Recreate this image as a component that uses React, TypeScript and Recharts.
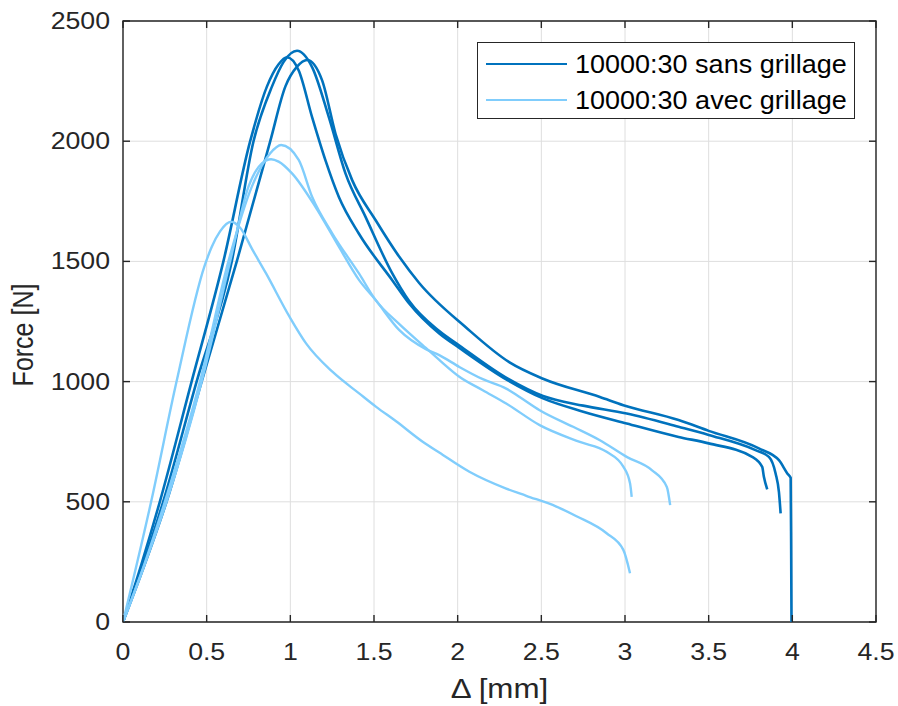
import React from 'react';
import { LineChart, Line, XAxis, YAxis, CartesianGrid, ReferenceArea, Legend } from 'recharts';

const DELTA_TICKS = [0, 0.5, 1, 1.5, 2, 2.5, 3, 3.5, 4, 4.5];
const FORCE_TICKS = [0, 500, 1000, 1500, 2000, 2500];

// 10000:30 sans grillage (3 essais)
const sans1Delta = [0, 0.11, 0.22, 0.41, 0.6, 0.76, 0.86, 0.93, 0.98, 1.05, 1.13, 1.21, 1.29, 1.41, 1.61, 1.71, 1.89, 2.01, 2.3, 2.51, 2.75, 3.01, 3.32, 3.5, 3.76, 3.82, 3.83, 3.85];
const sans1Force = [0, 240, 500, 1000, 1500, 2000, 2227, 2320, 2349, 2294, 2100, 1920, 1768, 1615, 1421, 1325, 1200, 1140, 1005, 930, 875, 826, 770, 743, 687, 645, 604, 552];

const sans2Delta = [0, 0.12, 0.24, 0.44, 0.65, 0.78, 0.89, 0.96, 1.04, 1.13, 1.23, 1.33, 1.45, 1.61, 1.71, 1.89, 2.01, 2.3, 2.51, 2.75, 3.01, 3.32, 3.5, 3.78, 3.86, 3.9, 3.92, 3.93];
const sans2Force = [0, 240, 500, 1000, 1500, 2000, 2227, 2330, 2376, 2308, 2100, 1865, 1684, 1449, 1335, 1210, 1150, 1012, 940, 900, 867, 812, 778, 715, 687, 618, 540, 452];

const sans3Delta = [0, 0.13, 0.26, 0.47, 0.68, 0.88, 0.97, 1.04, 1.1, 1.19, 1.27, 1.37, 1.51, 1.65, 1.77, 2.05, 2.31, 2.51, 2.85, 2.99, 3.32, 3.5, 3.8, 3.92, 3.97, 3.99, 3.993, 3.995];
const sans3Force = [0, 240, 500, 1000, 1500, 2000, 2227, 2310, 2338, 2253, 2031, 1837, 1671, 1520, 1410, 1225, 1080, 1012, 936, 902, 840, 795, 722, 673, 618, 600, 300, 0];

// 10000:30 avec grillage (3 essais)
const avec1Delta = [0, 0.13, 0.25, 0.46, 0.63, 0.77, 0.88, 0.945, 1.05, 1.13, 1.25, 1.41, 1.51, 1.65, 1.81, 1.89, 2.01, 2.15, 2.29, 2.49, 2.73, 2.89, 2.99, 3.03, 3.04];
const avec1Force = [0, 245, 500, 1000, 1500, 1811, 1950, 1984, 1922, 1769, 1617, 1450, 1339, 1240, 1140, 1090, 1020, 964, 909, 819, 749, 708, 646, 577, 521];

const avec2Delta = [0, 0.13, 0.26, 0.47, 0.64, 0.75, 0.83, 0.885, 0.93, 1.01, 1.15, 1.29, 1.41, 1.51, 1.65, 1.81, 1.89, 2.01, 2.15, 2.29, 2.37, 2.49, 2.69, 2.85, 3.01, 3.16, 3.25, 3.27];
const avec2Force = [0, 240, 500, 1000, 1500, 1811, 1908, 1925, 1915, 1866, 1727, 1561, 1423, 1339, 1215, 1135, 1110, 1061, 1010, 971, 936, 881, 812, 756, 687, 632, 562, 486];

const avec3Delta = [0, 0.168, 0.32, 0.487, 0.53, 0.58, 0.646, 0.7, 0.775, 0.855, 0.995, 1.094, 1.253, 1.413, 1.513, 1.632, 1.791, 1.89, 2.07, 2.29, 2.41, 2.59, 2.71, 2.89, 2.99, 3.03];
const avec3Force = [0, 500, 1000, 1480, 1560, 1625, 1665, 1640, 1547, 1450, 1270, 1159, 1040, 950, 895, 835, 750, 705, 625, 555, 525, 480, 440, 369, 300, 203];

const LABEL_SANS = '10000:30 sans grillage';
const LABEL_AVEC = '10000:30 avec grillage';

const DARK = '#0072BD';
const LIGHT = '#80CDFC';
const AXIS = '#262626';
const FONT = '"Liberation Sans", Arial, Helvetica, sans-serif';

const W = 898;
const H = 706;
const PLOT_TOP = 21;
const PLOT_BOTTOM = 622;
const PLOT_LEFT = 123;
const PLOT_RIGHT = 876;
const TICK_LEN = 7;
const STRETCH = 1.16;

const zip = (xs: number[], ys: number[]) => xs.map((x, i) => ({ x, y: ys[i] }));

const SERIES = [
  { id: 'sans1', data: zip(sans1Delta, sans1Force), color: DARK, name: LABEL_SANS, legend: true },
  { id: 'sans2', data: zip(sans2Delta, sans2Force), color: DARK, name: LABEL_SANS, legend: false },
  { id: 'sans3', data: zip(sans3Delta, sans3Force), color: DARK, name: LABEL_SANS, legend: false },
  { id: 'avec1', data: zip(avec1Delta, avec1Force), color: LIGHT, name: LABEL_AVEC, legend: true },
  { id: 'avec2', data: zip(avec2Delta, avec2Force), color: LIGHT, name: LABEL_AVEC, legend: false },
  { id: 'avec3', data: zip(avec3Delta, avec3Force), color: LIGHT, name: LABEL_AVEC, legend: false },
];

function DeltaTick(props: any) {
  const { x, payload } = props;
  return (
    <g>
      <line x1={x} x2={x} y1={PLOT_BOTTOM} y2={PLOT_BOTTOM - TICK_LEN} stroke={AXIS} strokeWidth={1.4} />
      <line x1={x} x2={x} y1={PLOT_TOP} y2={PLOT_TOP + TICK_LEN} stroke={AXIS} strokeWidth={1.4} />
      <text
        transform={`translate(${x},${PLOT_BOTTOM + 38}) scale(${STRETCH},1)`}
        textAnchor="middle"
        fontSize={23}
        fontFamily={FONT}
        fill={AXIS}
      >
        {payload.value}
      </text>
    </g>
  );
}

function ForceTick(props: any) {
  const { y, payload } = props;
  return (
    <g>
      <line x1={PLOT_LEFT} x2={PLOT_LEFT + TICK_LEN} y1={y} y2={y} stroke={AXIS} strokeWidth={1.4} />
      <line x1={PLOT_RIGHT} x2={PLOT_RIGHT - TICK_LEN} y1={y} y2={y} stroke={AXIS} strokeWidth={1.4} />
      <text
        transform={`translate(110,${y + 8}) scale(${STRETCH},1)`}
        textAnchor="end"
        fontSize={23}
        fontFamily={FONT}
        fill={AXIS}
      >
        {payload.value}
      </text>
    </g>
  );
}

function LegendBox() {
  const items = SERIES.filter((s) => s.legend);
  return (
    <div
      style={{
        width: 378,
        height: 77,
        boxSizing: 'border-box',
        border: `1px solid ${AXIS}`,
        background: '#fff',
        paddingTop: 3,
        fontFamily: FONT,
      }}
    >
      {items.map((s) => (
        <div key={s.id} style={{ height: 36, display: 'flex', alignItems: 'center' }}>
          <div style={{ width: 81, height: 0, borderTop: `2.6px solid ${s.color}`, marginLeft: 8 }} />
          <span
            style={{
              marginLeft: 8,
              fontSize: 25,
              color: '#000',
              whiteSpace: 'nowrap',
              display: 'inline-block',
              transform: 'scaleX(1.08)',
              transformOrigin: 'left center',
            }}
          >
            {s.name}
          </span>
        </div>
      ))}
    </div>
  );
}

export default function App() {
  return (
    <div style={{ position: 'absolute', left: 0, top: 0, width: W, height: H, background: '#fff' }}>
      <LineChart width={W} height={H} margin={{ top: PLOT_TOP, right: W - PLOT_RIGHT, bottom: 0, left: 0 }}>
        <CartesianGrid stroke="#dedede" strokeWidth={1} />
        <XAxis
          dataKey="x"
          type="number"
          domain={[0, 4.5]}
          ticks={DELTA_TICKS}
          interval={0}
          height={H - PLOT_BOTTOM}
          axisLine={false}
          tickLine={false}
          tick={<DeltaTick />}
          allowDataOverflow
          label={() => (
            <text
              transform={`translate(${(PLOT_LEFT + PLOT_RIGHT) / 2},698) scale(${STRETCH},1)`}
              textAnchor="middle"
              fontSize={27}
              fontFamily={FONT}
              fill={AXIS}
            >
              Δ [mm]
            </text>
          )}
        />
        <YAxis
          type="number"
          domain={[0, 2500]}
          ticks={FORCE_TICKS}
          interval={0}
          width={PLOT_LEFT}
          axisLine={false}
          tickLine={false}
          tick={<ForceTick />}
          allowDataOverflow
          label={() => (
            <text
              transform={`translate(33,335) scale(${STRETCH},1) rotate(-90)`}
              textAnchor="middle"
              fontSize={25}
              fontFamily={FONT}
              fill={AXIS}
            >
              Force [N]
            </text>
          )}
        />
        <ReferenceArea x1={0} x2={4.5} y1={0} y2={2500} fill="none" stroke={AXIS} strokeWidth={1.4} />
        {SERIES.map((s) => (
          <Line
            key={s.id}
            data={s.data}
            dataKey="y"
            name={s.name}
            type="monotoneX"
            stroke={s.color}
            strokeWidth={s.color === DARK ? 2.6 : 2.4}
            dot={false}
            activeDot={false}
            legendType={s.legend ? 'line' : 'none'}
            isAnimationActive={false}
          />
        ))}
        <Legend
          layout="vertical"
          align="center"
          verticalAlign="middle"
          content={<LegendBox />}
          wrapperStyle={{ left: 477, top: 42, width: 378, height: 77, right: 'auto', bottom: 'auto' }}
        />
      </LineChart>
    </div>
  );
}
